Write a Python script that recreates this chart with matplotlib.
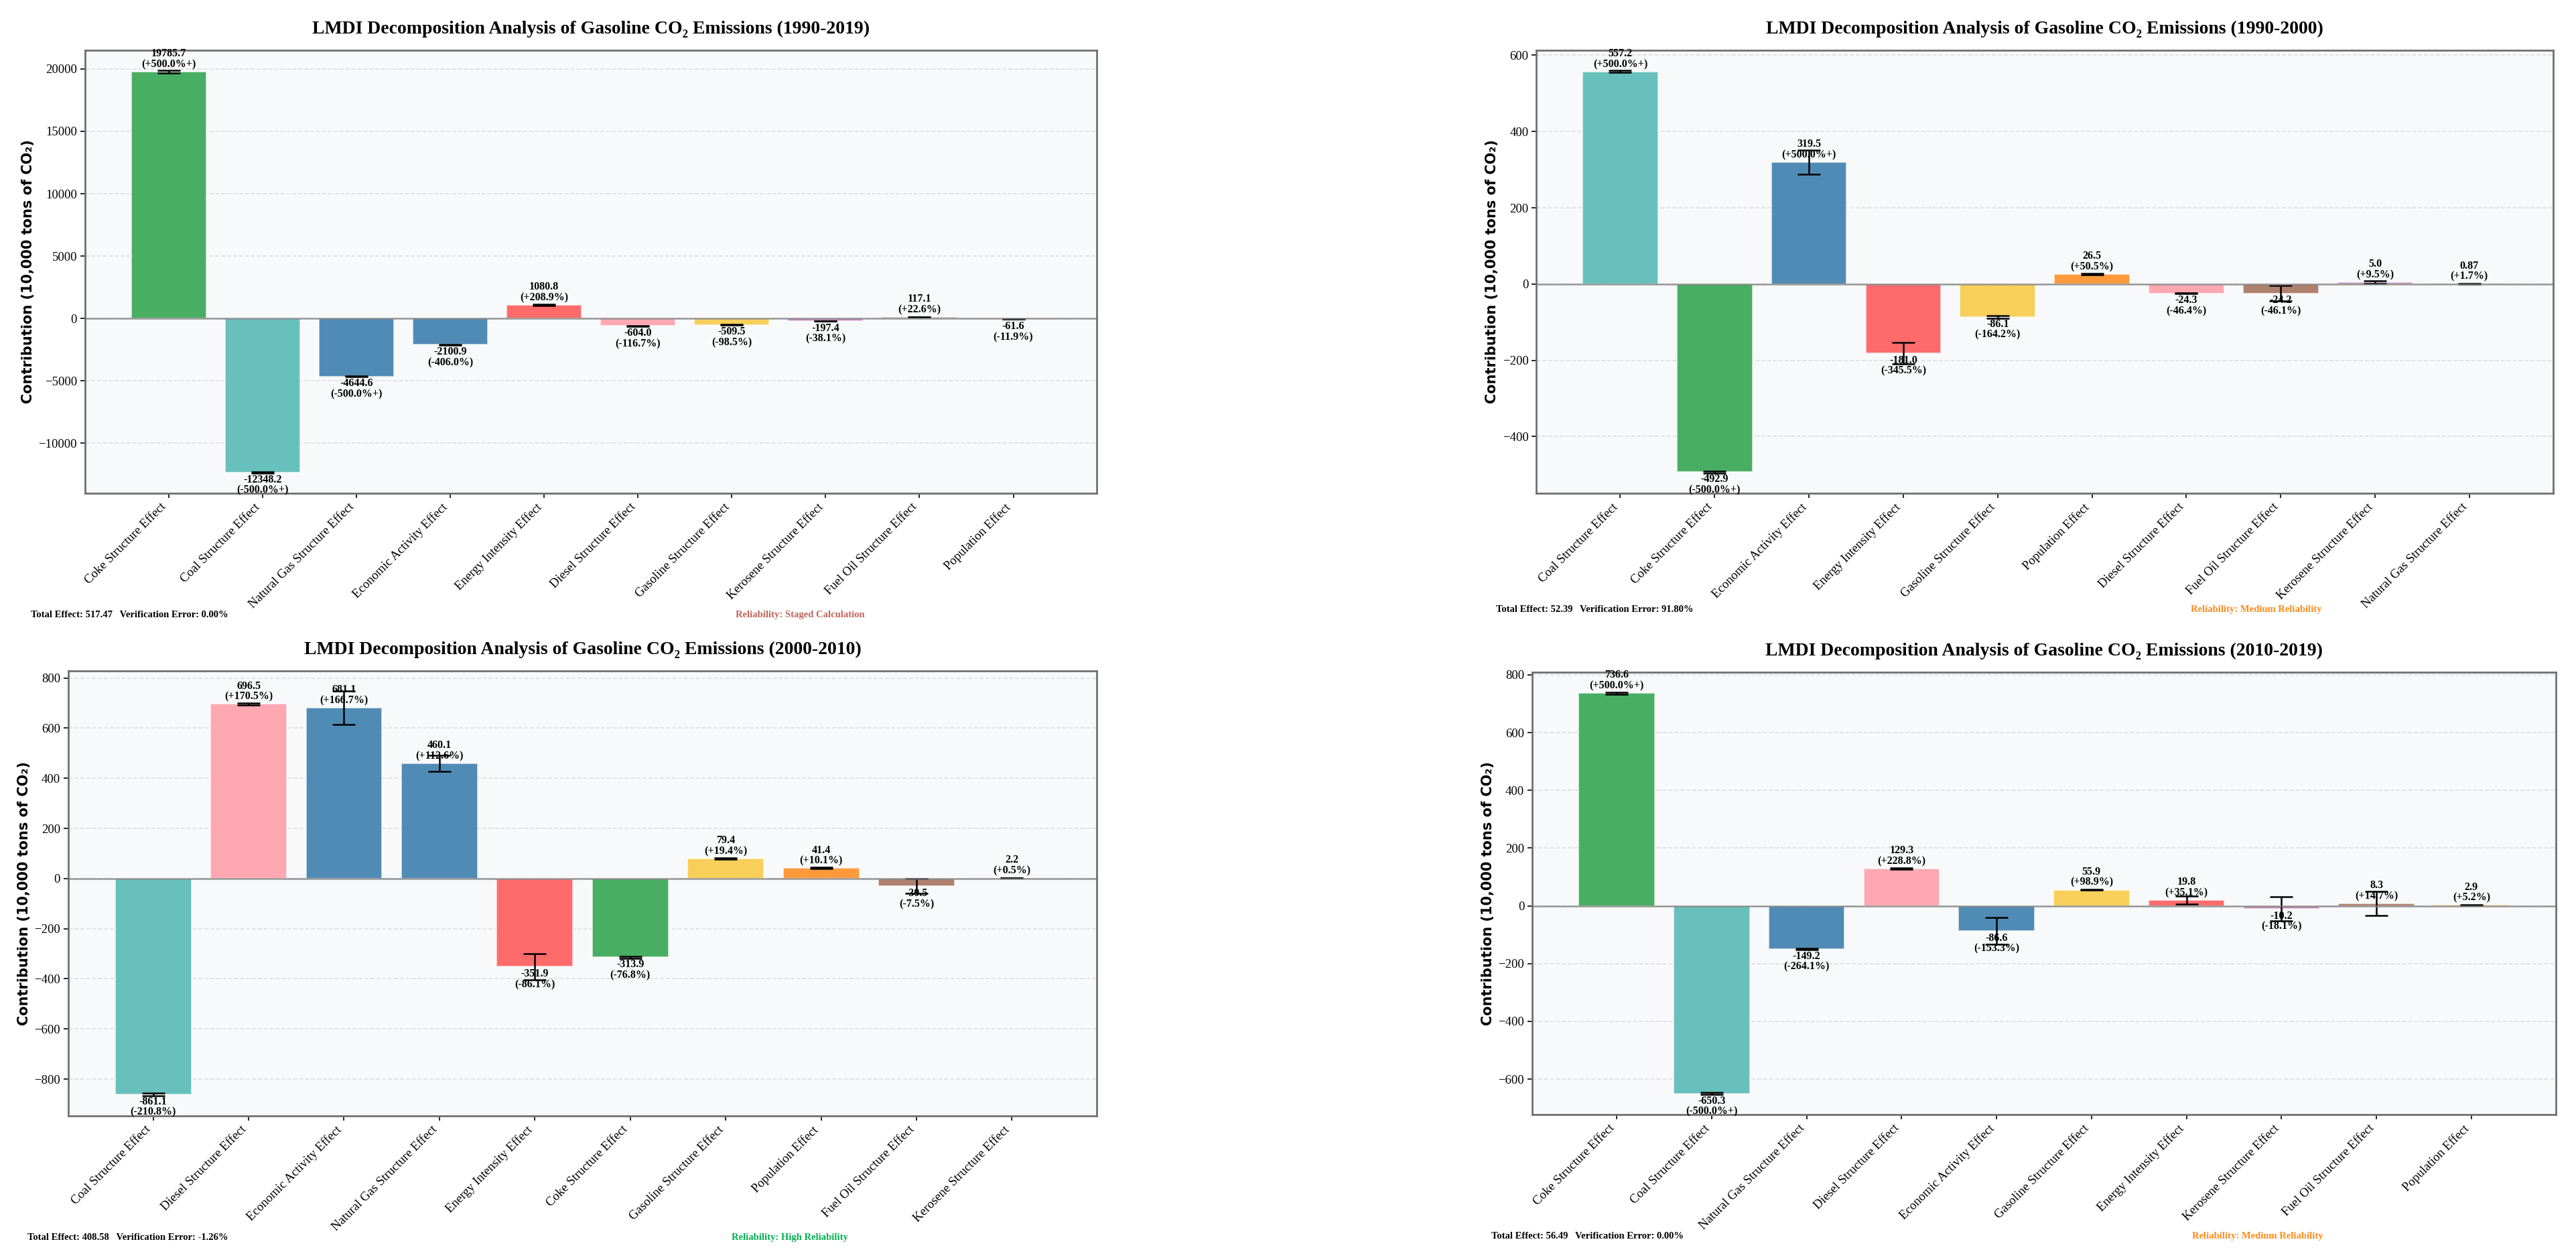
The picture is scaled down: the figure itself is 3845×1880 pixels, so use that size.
import matplotlib
matplotlib.use("Agg")
import matplotlib.pyplot as plt
import numpy as np

plt.rcParams['font.family'] = ['Liberation Serif', 'DejaVu Serif']

# ---- data, one block per period ----
periods = ['1990-2019', '1990-2000', '2000-2010', '2010-2019']

effects_1 = ['Coke Structure Effect', 'Coal Structure Effect', 'Natural Gas Structure Effect',
             'Economic Activity Effect', 'Energy Intensity Effect', 'Diesel Structure Effect',
             'Gasoline Structure Effect', 'Kerosene Structure Effect', 'Fuel Oil Structure Effect',
             'Population Effect']
values_1 = [19785.7, -12348.2, -4644.6, -2100.9, 1080.8, -604.0, -509.5, -197.4, 117.1, -61.6]
pct_1 = [500.0, -500.0, -500.0, -406.0, 208.9, -116.7, -98.5, -38.1, 22.6, -11.9]
err_1 = [100, 60, 40, 30, 60, 10, 10, 5, 5, 3]

effects_2 = ['Coal Structure Effect', 'Coke Structure Effect', 'Economic Activity Effect',
             'Energy Intensity Effect', 'Gasoline Structure Effect', 'Population Effect',
             'Diesel Structure Effect', 'Fuel Oil Structure Effect', 'Kerosene Structure Effect',
             'Natural Gas Structure Effect']
values_2 = [557.2, -492.9, 319.5, -181.0, -86.1, 26.5, -24.3, -24.2, 5.0, 0.87]
pct_2 = [500.0, -500.0, 500.0, -345.5, -164.2, 50.5, -46.4, -46.1, 9.5, 1.7]
err_2 = [3, 3, 32, 28, 3, 2, 1, 20, 3, 0.5]

effects_3 = ['Coal Structure Effect', 'Diesel Structure Effect', 'Economic Activity Effect',
             'Natural Gas Structure Effect', 'Energy Intensity Effect', 'Coke Structure Effect',
             'Gasoline Structure Effect', 'Population Effect', 'Fuel Oil Structure Effect',
             'Kerosene Structure Effect']
values_3 = [-861.1, 696.5, 681.1, 460.1, -351.9, -313.9, 79.4, 41.4, -30.5, 2.2]
pct_3 = [-210.8, 170.5, 166.7, 112.6, -86.1, -76.8, 19.4, 10.1, -7.5, 0.5]
err_3 = [5, 4, 67, 32, 52, 4, 3, 3, 29, 1]

effects_4 = ['Coke Structure Effect', 'Coal Structure Effect', 'Natural Gas Structure Effect',
             'Diesel Structure Effect', 'Economic Activity Effect', 'Gasoline Structure Effect',
             'Energy Intensity Effect', 'Kerosene Structure Effect', 'Fuel Oil Structure Effect',
             'Population Effect']
values_4 = [736.6, -650.3, -149.2, 129.3, -86.6, 55.9, 19.8, -10.2, 8.3, 2.9]
pct_4 = [500.0, -500.0, -264.1, 228.8, -153.3, 98.9, 35.1, -18.1, 14.7, 5.2]
err_4 = [3, 3, 3, 2, 46, 1, 14, 41, 42, 1]

total_effect = [517.47, 52.39, 408.58, 56.49]
verif_error = [0.00, 91.80, -1.26, 0.00]
reliability = ['Staged Calculation', 'Medium Reliability', 'High Reliability', 'Medium Reliability']

# ---- styling ----
effect_colors = {
    'Coke Structure Effect': '#48AE63',
    'Coal Structure Effect': '#68C0BC',
    'Natural Gas Structure Effect': '#4F8BB5',
    'Economic Activity Effect': '#508BB5',
    'Energy Intensity Effect': '#FF6B6B',
    'Diesel Structure Effect': '#FFA8B2',
    'Gasoline Structure Effect': '#F8CF5A',
    'Kerosene Structure Effect': '#C98BBB',
    'Fuel Oil Structure Effect': '#B0806E',
    'Population Effect': '#FF9A3C',
}
reliability_colors = {'Staged Calculation': '#C0645A',
                      'Medium Reliability': '#FF8C1A',
                      'High Reliability': '#00B050'}

# axes boxes [left, bottom, width, height] in figure fractions
boxes = [[0.0330, 0.6085, 0.3928, 0.3516],
         [0.5964, 0.6085, 0.3948, 0.3516],
         [0.0265, 0.1144, 0.3993, 0.3532],
         [0.5948, 0.1154, 0.3974, 0.3511]]
info_pos = [(0.012, 0.512, 0.3105), (0.5808, 0.516, 0.876),
            (0.0107, 0.018, 0.3066), (0.579, 0.019, 0.8765)]

panels = [(effects_1, values_1, pct_1, err_1),
          (effects_2, values_2, pct_2, err_2),
          (effects_3, values_3, pct_3, err_3),
          (effects_4, values_4, pct_4, err_4)]

fig = plt.figure(figsize=(38.45, 18.8), dpi=100)

for i, (names, vals, pcts, errs) in enumerate(panels):
    ax = fig.add_axes(boxes[i])
    ax.set_facecolor('#F8F9FA')
    x = np.arange(len(names))
    cols = [effect_colors[n] for n in names]
    bars = ax.bar(x, vals, width=0.8, color=cols, edgecolor=(1, 1, 1, 0.6), linewidth=1.5,
                  yerr=errs, capsize=12, error_kw=dict(ecolor='black', elinewidth=1.8, capthick=1.8))
    ax.axhline(0, color='gray', linewidth=1.8, alpha=0.8)
    ax.grid(axis='y', linestyle='--', alpha=0.35, linewidth=1.2)
    ax.set_axisbelow(True)

    for b, v, p in zip(bars, vals, pcts):
        vtxt = f'{v:.2f}' if abs(v) < 1 else f'{v:.1f}'
        ptxt = f'{p:+.1f}%' + ('+' if abs(p) >= 500 else '')
        if v >= 0:
            ax.annotate(f'{vtxt}\n({ptxt})', (b.get_x() + b.get_width() / 2, v),
                        xytext=(0, 2), textcoords='offset points', ha='center', va='bottom',
                        fontsize=11.5, fontweight='bold', linespacing=1.0)
        else:
            ax.annotate(f'{vtxt}\n({ptxt})', (b.get_x() + b.get_width() / 2, v),
                        xytext=(0, -2), textcoords='offset points', ha='center', va='top',
                        fontsize=11.5, fontweight='bold', linespacing=1.0)

    ax.set_xticks(x)
    ax.set_xticklabels(names, rotation=45, ha='right', fontsize=13.5)
    ax.tick_params(axis='y', labelsize=13.5)
    ax.tick_params(length=5, width=1.2)
    ax.set_ylabel('Contribution (10,000 tons of CO₂)', fontsize=15, fontweight='bold',
                  family='DejaVu Sans')
    ax.set_title(f'LMDI Decomposition Analysis of Gasoline CO₂ Emissions ({periods[i]})',
                 fontsize=20, fontweight='bold', pad=18)
    for s in ax.spines.values():
        s.set_color('#707070')
        s.set_linewidth(2)

    tx, ty, rx = info_pos[i]
    fig.text(tx, ty, f'Total Effect: {total_effect[i]:.2f}   Verification Error: {verif_error[i]:.2f}%',
             fontsize=10.5, fontweight='bold', ha='left', va='center')
    fig.text(rx, ty, f'Reliability: {reliability[i]}', fontsize=10.5, fontweight='bold',
             ha='center', va='center', color=reliability_colors[reliability[i]])

fig.savefig('out.png', dpi=100, facecolor='white')
